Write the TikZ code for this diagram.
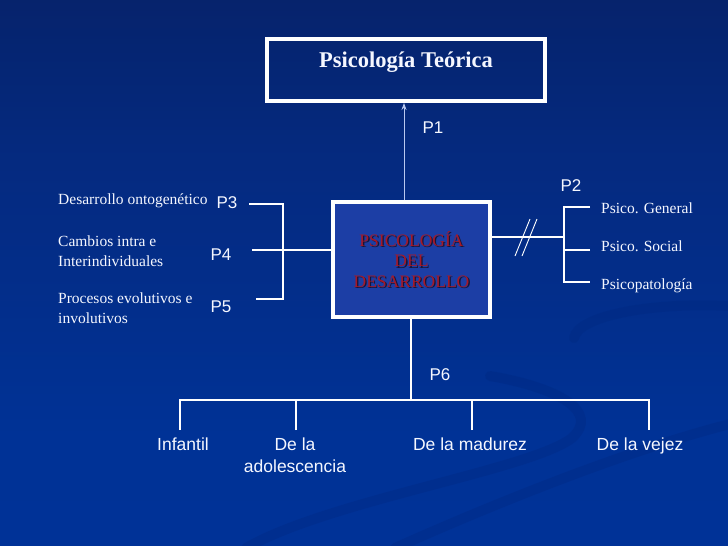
\documentclass[tikz,border=0pt]{standalone}
\usepackage{fontspec}
\setmainfont{Liberation Serif}
\newfontfamily\arial{Liberation Sans}
\usetikzlibrary{arrows.meta,calc}
\definecolor{bgA}{RGB}{0,51,153}
\definecolor{bgB}{RGB}{0,50,150}
\definecolor{bgC}{RGB}{5,42,128}
\definecolor{bgD}{RGB}{6,30,95}
\definecolor{bgE}{RGB}{3,22,72}
\definecolor{bgF}{RGB}{0,8,30}
\definecolor{swoosh}{RGB}{0,38,125}
\definecolor{cenfill}{RGB}{28,62,165}
\definecolor{dred}{RGB}{165,25,40}
\definecolor{dshadow}{RGB}{25,20,55}
\definecolor{arrowc}{RGB}{185,200,240}
\definecolor{txt}{RGB}{245,247,255}
\pgfdeclareverticalshading{bgsh}{100bp}{color(0bp)=(bgA); color(35bp)=(bgB); color(60bp)=(bgC); color(85bp)=(bgD); color(95bp)=(bgE); color(100bp)=(bgF)}
\tikzset{
  box/.style={draw=white, line width=4pt, inner sep=0pt},
  con/.style={draw=white, line width=1.1pt},
  swo/.style={draw=swoosh, line width=10pt, opacity=0.3, line cap=round},
  lbl/.style={text=txt, inner sep=0pt, align=left, font=\fontsize{15.5}{20}\selectfont},
  plbl/.style={text=txt, inner sep=0pt, font=\arial\fontsize{17}{20}\selectfont},
  blbl/.style={text=txt, inner sep=0pt, align=center, font=\arial\fontsize{17.5}{22}\selectfont},
  centxt/.style={align=center, inner sep=0pt, font=\fontsize{17.5}{20.5}\selectfont}
}
\begin{document}
\begin{tikzpicture}[x=1pt,y=-1pt]
\useasboundingbox (0,0) rectangle (728,546);
\shade[shading=bgsh] (0,0) rectangle (728,546);
% decorative swooshes
\draw[swo] (730,306) .. controls (650,302) and (578,316) .. (574,338);
\draw[swo] (490,376) .. controls (560,388) and (600,412) .. (572,438) .. controls (530,470) and (330,500) .. (246,548);
\draw[swo] (395,548) .. controls (480,510) and (620,452) .. (730,424);
% boxes
\node[box, minimum width=278pt, minimum height=62pt, text=txt, text height=15pt, text depth=21pt,
  font=\bfseries\fontsize{22.5}{26}\selectfont] (teo) at (406,70) {Psicología Teórica};
\node[box, fill=cenfill, minimum width=157pt, minimum height=115pt] (cen) at (411.5,259.5) {};
\node[centxt, text=dshadow] (censh) at ($(cen.center)+(1.3,1.3)$) {PSICOLOGÍA\\DEL\\DESARROLLO};
\node[centxt, text=dred] (cent) at (cen.center) {PSICOLOGÍA\\DEL\\DESARROLLO};
% P1 arrow
\coordinate (a1) at (404,150);
\draw[draw=arrowc, line width=0.8pt, -{Stealth[length=7pt,width=5pt]}] (cen.north -| a1) -- (teo.south -| a1);
\node[plbl] (p1) at (433,128) {P1};
% left side
\node[lbl, anchor=west] (l1) at (58,201) {Desarrollo ontogenético};
\node[lbl, anchor=west] (l2) at (58,251) {Cambios intra e\\Interindividuales};
\node[lbl, anchor=west] (l3) at (58,308) {Procesos evolutivos e\\involutivos};
\node[plbl] (p3) at (227,203) {P3};
\node[plbl] (p4) at (221,255) {P4};
\node[plbl] (p5) at (221,307) {P5};
\coordinate (b3) at (249,204);
\coordinate (b4) at (252,250);
\coordinate (b5) at (256,299);
\coordinate (bv) at (283,250);
\draw[con] (b3) -- (b3 -| bv) -- (b5 -| bv) -- (b5);
\draw[con] (b4) -- (cen.west |- b4);
% right side
\node[plbl] (p2) at (571,186) {P2};
\coordinate (rv) at (564,237);
\coordinate (r1) at (590,207);
\coordinate (r2) at (590,250);
\coordinate (r3) at (590,282);
\draw[con] (cen.east |- rv) -- (rv);
\draw[con] (r1) -- (r1 -| rv) -- (r3 -| rv) -- (r3);
\draw[con] (r2) -- (r2 -| rv);
\coordinate (s1a) at (515,256);
\coordinate (s1b) at (530,219);
\coordinate (s2a) at (522,256);
\coordinate (s2b) at (537,219);
\draw[draw=white, line width=0.9pt] (s1a) -- (s1b);
\draw[draw=white, line width=0.9pt] (s2a) -- (s2b);
\node[lbl, anchor=west] (g1) at (601,208) {Psico. General};
\node[lbl, anchor=west] (g2) at (601,246) {Psico. Social};
\node[lbl, anchor=west] (g3) at (601,286) {Psicopatología};
% bottom
\coordinate (bus) at (411,400);
\draw[con] (cen.south -| bus) -- (bus);
\node[plbl] (p6) at (440,375) {P6};
\coordinate (d1) at (180,430);
\coordinate (d2) at (296,430);
\coordinate (d3) at (472,430);
\coordinate (d4) at (649,430);
\draw[con] (d1) -- (d1 |- bus) -- (d4 |- bus) -- (d4);
\draw[con] (d2) -- (d2 |- bus);
\draw[con] (d3) -- (d3 |- bus);
\node[blbl, anchor=base] (e1) at (183,450) {Infantil};
\node[blbl] (e2) at (295,455) {De la\\adolescencia};
\node[blbl, anchor=base] (e3) at (470,450) {De la madurez};
\node[blbl, anchor=base] (e4) at (640,450) {De la vejez};
\end{tikzpicture}
\end{document}
